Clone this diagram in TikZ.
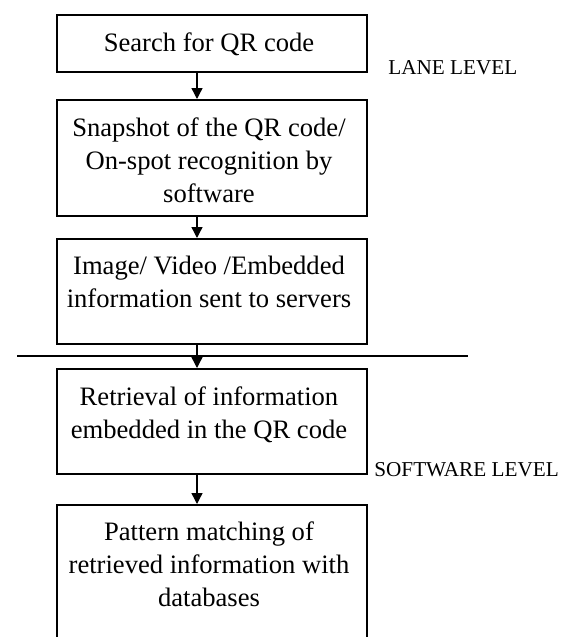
\documentclass[tikz,border=0pt]{standalone}
\usepackage{fontspec}
\setmainfont{Liberation Serif}
\usetikzlibrary{arrows.meta}
\begin{document}
\begin{tikzpicture}[x=0.5pt,y=-0.5pt,
  box/.style={draw, line width=0.8pt, minimum width=155pt, inner sep=0pt, anchor=north},
  txt/.style={anchor=north, align=center, font=\fontsize{13.3}{16.5}\selectfont, inner sep=0pt},
  lbl/.style={font=\fontsize{10.6}{12}\selectfont, anchor=west, inner sep=0pt},
  arr/.style={-{Triangle[length=5.5pt,width=5.5pt]}, line width=0.7pt},
  divider/.style={line width=0.6pt}]
\clip (0,0) rectangle (576,637);
\fill[white] (0,0) rectangle (576,637);
% boxes
\node[box, minimum height=28.5pt] (b1) at (212,14) {};
\node[box, minimum height=58pt]   (b2) at (212,99) {};
\node[box, minimum height=52.5pt] (b3) at (212,238) {};
\node[box, minimum height=52.5pt] (b4) at (212,368) {};
\node[box, minimum height=75pt]   (b5) at (212,504) {};
% texts
\node[txt] (t1) at (209,32) {Search for QR code};
\node[txt] (t2) at (209,117) {Snapshot of the QR code/\\On-spot recognition by\\software};
\node[txt] (t3) at (209,256) {Image/ Video /Embedded\\information sent to servers};
\node[txt] (t4) at (209,386) {Retrieval of information\\embedded in the QR code};
\node[txt] (t5) at (209,521) {Pattern matching of\\retrieved information with\\databases};
% labels
\node[lbl] (l1) at (388,68) {LANE LEVEL};
\node[lbl] (l2) at (374,470) {SOFTWARE LEVEL};
% divider
\coordinate (h1) at (17,356);
\coordinate (h2) at (468,356);
\draw[divider] (h1) -- (h2);
% arrows
\draw[arr] ([xshift=-7.5pt]b1.south) -- ([xshift=-7.5pt]b2.north);
\draw[arr] ([xshift=-7.5pt]b2.south) -- ([xshift=-7.5pt]b3.north);
\draw[arr] ([xshift=-7.5pt]b3.south) -- ([xshift=-7.5pt]b4.north);
\draw[arr] ([xshift=-7.5pt]b4.south) -- ([xshift=-7.5pt]b5.north);
\end{tikzpicture}
\end{document}
